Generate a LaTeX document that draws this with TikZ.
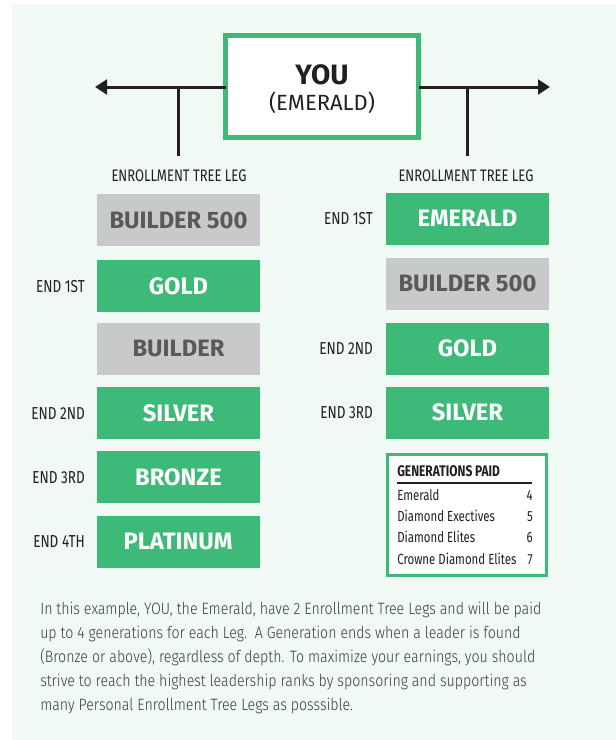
\documentclass[tikz,border=0pt]{standalone}
\usepackage{fontspec}
\setmainfont{Fira Sans}
\newfontfamily\condfont[FakeStretch=0.78]{Fira Sans}
\newfontfamily\boxfont[FakeStretch=1.0]{Fira Sans}
\newfontfamily\bodyfont[FakeStretch=0.865]{Fira Sans Light}
\usetikzlibrary{arrows.meta}
\definecolor{bgmint}{HTML}{F0F9F3}
\definecolor{emgreen}{HTML}{3DBA78}
\definecolor{boxgray}{HTML}{C8C9CB}
\definecolor{graytext}{HTML}{58595B}
\definecolor{darktext}{HTML}{231F20}
\definecolor{bodytext}{HTML}{3A3A3A}
\tikzset{
  rankbox/.style={minimum width=122.25pt, minimum height=39pt, inner sep=0pt, outer sep=0pt,
     font=\boxfont\bfseries\fontsize{17.8}{20}\selectfont},
  greenbox/.style={rankbox, fill=emgreen, text=white},
  graybox/.style={rankbox, fill=boxgray, text=graytext},
  endlabel/.style={anchor=east, inner sep=0pt, text=darktext, font=\condfont\fontsize{13}{14}\selectfont},
  leglabel/.style={inner sep=0pt, text=darktext, font=\condfont\fontsize{12.5}{14}\selectfont},
  treeline/.style={line width=2.25pt, draw=darktext},
  arrowline/.style={treeline, -{Triangle[length=9pt,width=11pt]}},
  genrow/.style={anchor=base west, inner sep=0pt, text=darktext, font=\condfont\fontsize{11}{12}\selectfont},
  gennum/.style={anchor=base east, inner sep=0pt, text=darktext, font=\condfont\fontsize{11}{12}\selectfont},
  bodyline/.style={anchor=base west, inner sep=0pt, text=bodytext, font=\bodyfont\fontsize{12.3}{14}\selectfont},
}
\begin{document}
\begin{tikzpicture}[x=0.75pt, y=-0.75pt]
\useasboundingbox (0,0) rectangle (616,740);
\fill[bgmint] (12,4) rectangle (616,740);

% YOU box
\node[draw=emgreen, line width=3.75pt, fill=white, minimum width=144.75pt, minimum height=76.5pt,
      inner sep=0pt, outer sep=0pt] (you) at (322,86.5) {};
\node[inner sep=0pt, text=darktext, font=\boxfont\bfseries\fontsize{21}{24}\selectfont] (youtxt) at (322,75) {YOU};
\node[inner sep=0pt, text=darktext, font=\boxfont\fontsize{16.5}{18}\selectfont] (emtxt) at (322,103) {(EMERALD)};

% arrows
\coordinate (larrow) at (95,87);
\coordinate (rarrow) at (550,87);
\coordinate (ljoin) at (178,87);
\coordinate (rjoin) at (467,87);
\coordinate (lfoot) at (178,156);
\coordinate (rfoot) at (467,156);
\draw[arrowline] (you.west |- larrow) -- (larrow);
\draw[arrowline] (you.east |- rarrow) -- (rarrow);
\draw[treeline] (ljoin) -- (lfoot);
\draw[treeline] (rjoin) -- (rfoot);

\node[leglabel] (lleg) at (179,176) {ENROLLMENT TREE LEG};
\node[leglabel] (rleg) at (466,176) {ENROLLMENT TREE LEG};

% left column
\node[graybox]  (l1) at (178.5,220)   {BUILDER 500};
\node[greenbox] (l2) at (178.5,286)   {GOLD};
\node[graybox]  (l3) at (178.5,348.5) {BUILDER};
\node[greenbox] (l4) at (178.5,413)   {SILVER};
\node[greenbox] (l5) at (178.5,477)   {BRONZE};
\node[greenbox] (l6) at (178,541.5)   {PLATINUM};

\node[endlabel] (el2) at (85,287)   {END 1ST};
\node[endlabel] (el4) at (85,414)   {END 2ND};
\node[endlabel] (el5) at (85,478)   {END 3RD};
\node[endlabel] (el6) at (85,542)   {END 4TH};

% right column
\node[greenbox] (r1) at (467.5,218.5) {EMERALD};
\node[graybox]  (r2) at (467.5,283.5) {BUILDER 500};
\node[greenbox] (r3) at (467.5,348.5) {GOLD};
\node[greenbox] (r4) at (467.5,412.5) {SILVER};

\node[endlabel] (er1) at (373,219)   {END 1ST};
\node[endlabel] (er3) at (373,349)   {END 2ND};
\node[endlabel] (er4) at (373,413)   {END 3RD};

% generations box
\node[draw=emgreen, line width=2.25pt, fill=white, minimum width=119.25pt, minimum height=90.75pt,
      inner sep=0pt, outer sep=0pt] (gen) at (467,515) {};
\node[anchor=base west, inner sep=0pt, text=darktext, font=\condfont\bfseries\fontsize{11.5}{12}\selectfont] (gentitle) at (397,476) {GENERATIONS PAID};
\draw[line width=0.9pt, darktext] (397,483) -- (532,483);
\node[genrow] (g1) at (397,500) {Emerald};
\node[gennum] (n1) at (533,500) {4};
\node[genrow] (g2) at (397,521) {Diamond Exectives};
\node[gennum] (n2) at (533,521) {5};
\node[genrow] (g3) at (397,542) {Diamond Elites};
\node[gennum] (n3) at (533,542) {6};
\node[genrow] (g4) at (397,564) {Crowne Diamond Elites};
\node[gennum] (n4) at (533,564) {7};

% body text
\node[bodyline] (t1) at (40,614) {In this example, YOU, the Emerald, have 2 Enrollment Tree Legs and will be paid};
\node[bodyline] (t2) at (40,638) {up to 4 generations for each Leg.\ \ A Generation ends when a leader is found};
\node[bodyline] (t3) at (40,662) {(Bronze or above), regardless of depth. To maximize your earnings, you should};
\node[bodyline] (t4) at (40,686) {strive to reach the highest leadership ranks by sponsoring and supporting as};
\node[bodyline] (t5) at (40,710) {many Personal Enrollment Tree Legs as posssible.};
\end{tikzpicture}
\end{document}
